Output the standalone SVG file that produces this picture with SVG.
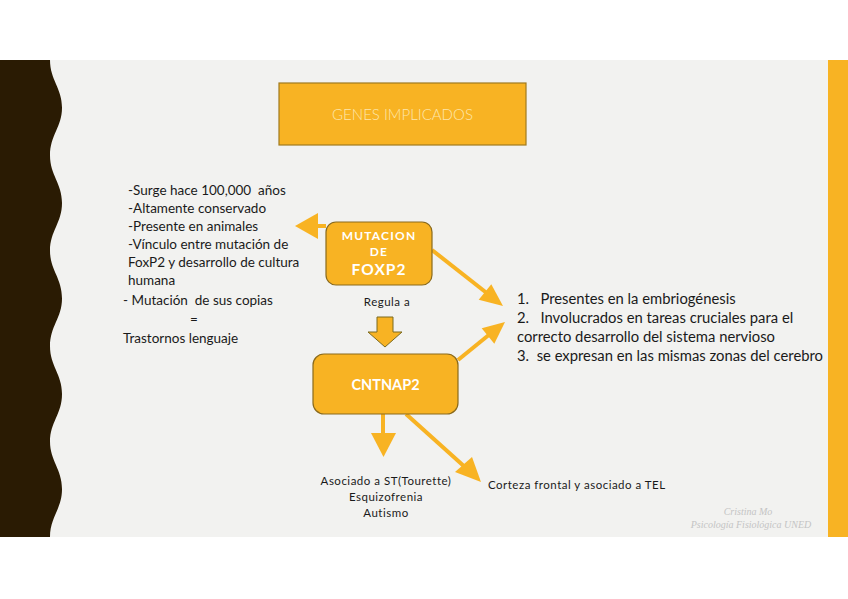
<svg xmlns="http://www.w3.org/2000/svg" width="848" height="599" viewBox="0 0 848 599">
<style>
text{white-space:pre}
.txt{font-family:Lato,"Open Sans","Liberation Sans",sans-serif;fill:#1a1a1a}
.box{fill:#f8b323;stroke:#8a6a1c;stroke-width:1.2}
.btxt{font-family:Lato,"Open Sans","Liberation Sans",sans-serif;fill:#ffffff;font-weight:bold;text-anchor:middle}
.ln{stroke:#f8b323;stroke-width:4;fill:none}
.hd{fill:#f8b323}
</style>
<rect width="848" height="599" fill="#ffffff"/>
<rect x="0" y="60" width="848" height="477" fill="#f2f2f0"/>
<path d="M0,60 L50,60 C50,80 62,88 62,107.7 C62,127 50,135 50,155.4 C50,175 62,183 62,203.1 C62,223 50,231 50,250.8 C50,270 62,278 62,298.5 C62,318 50,326 50,346.2 C50,366 62,374 62,393.9 C62,414 50,422 50,441.6 C50,461 62,469 62,489.3 C62,509 50,517 50,537 L0,537 Z" fill="#2a1b03"/>
<rect x="828" y="60" width="20" height="477" fill="#f8b323"/>
<g id="title">
<rect x="279" y="83" width="247" height="62" fill="#f8b323" stroke="#a07a1e" stroke-width="1.2"/>
<text x="402.5" y="120" font-family="Lato,'Open Sans','Liberation Sans',sans-serif" font-size="15" font-weight="300" fill="#fde6ad" text-anchor="middle">GENES IMPLICADOS</text>
</g>
<g id="connectors">
<line class="ln" x1="326" y1="226" x2="314" y2="226" stroke-width="5"/>
<polygon class="hd" points="295,226 318,213 318,239"/>
<line class="ln" x1="432" y1="250" x2="488" y2="294"/>
<polygon class="hd" points="503,306 478.7,299.8 491.3,284.2"/>
<line class="ln" x1="458" y1="360" x2="490" y2="334"/>
<polygon class="hd" points="505,322 494.3,343.8 481.7,328.2"/>
<line class="ln" x1="383" y1="414" x2="383" y2="435" stroke-width="5"/>
<polygon class="hd" points="371,433 396,433 383.5,457"/>
<line class="ln" x1="406" y1="414" x2="466" y2="468"/>
<polygon class="hd" points="481,482 455,472 472,457"/>
<polygon points="377,317 393,317 393,332 402,332 385,347 368,332 377,332" fill="#f8b323" stroke="#7a6a20" stroke-width="1"/>
</g>
<g id="foxp2">
<rect class="box" x="326" y="222" width="106" height="63" rx="10"/>
<text class="btxt" x="379" y="240" font-size="12" letter-spacing="1.2">MUTACION</text>
<text class="btxt" x="379" y="256" font-size="12" letter-spacing="1.2">DE</text>
<text class="btxt" x="379" y="275" font-size="15.5" letter-spacing="1">FOXP2</text>
</g>
<g id="regula">
<text class="txt" x="387" y="306" font-size="11.5" letter-spacing="0.5" text-anchor="middle">Regula a</text>
</g>
<g id="cntnap2">
<rect class="box" x="313" y="354" width="145" height="60" rx="11"/>
<text class="btxt" x="385.5" y="390" font-size="14.5">CNTNAP2</text>
</g>
<g id="leftlist" class="txt" font-size="13.5">
<text x="128" y="195">-Surge hace 100,000  años</text>
<text x="128" y="213">-Altamente conservado</text>
<text x="128" y="231">-Presente en animales</text>
<text x="128" y="249">-Vínculo entre mutación de</text>
<text x="128" y="267">FoxP2 y desarrollo de cultura</text>
<text x="128" y="285">humana</text>
<text x="123" y="305">- Mutación  de sus copias</text>
<text x="190" y="324">=</text>
<text x="123" y="343">Trastornos lenguaje</text>
</g>
<g id="rightlist" class="txt" font-size="14.8">
<text x="517" y="304">1.   Presentes en la embriogénesis</text>
<text x="517" y="323">2.   Involucrados en tareas cruciales para el</text>
<text x="517" y="342">correcto desarrollo del sistema nervioso</text>
<text x="517" y="361">3.  se expresan en las mismas zonas del cerebro</text>
</g>
<g id="asociado" class="txt" font-size="11.5" letter-spacing="0.5" text-anchor="middle">
<text x="386" y="485">Asociado a ST(Tourette)</text>
<text x="386" y="501">Esquizofrenia</text>
<text x="386" y="517">Autismo</text>
</g>
<g id="corteza">
<text class="txt" x="488" y="489" font-size="11.5" letter-spacing="0.5">Corteza frontal y asociado a TEL</text>
</g>
<g id="watermark" font-family="'Liberation Serif',serif" font-style="italic" font-size="10" fill="#c4c4c4" text-anchor="middle">
<text x="748" y="515">Cristina Mo</text>
<text x="751" y="528">Psicología Fisiológica UNED</text>
</g>
</svg>
